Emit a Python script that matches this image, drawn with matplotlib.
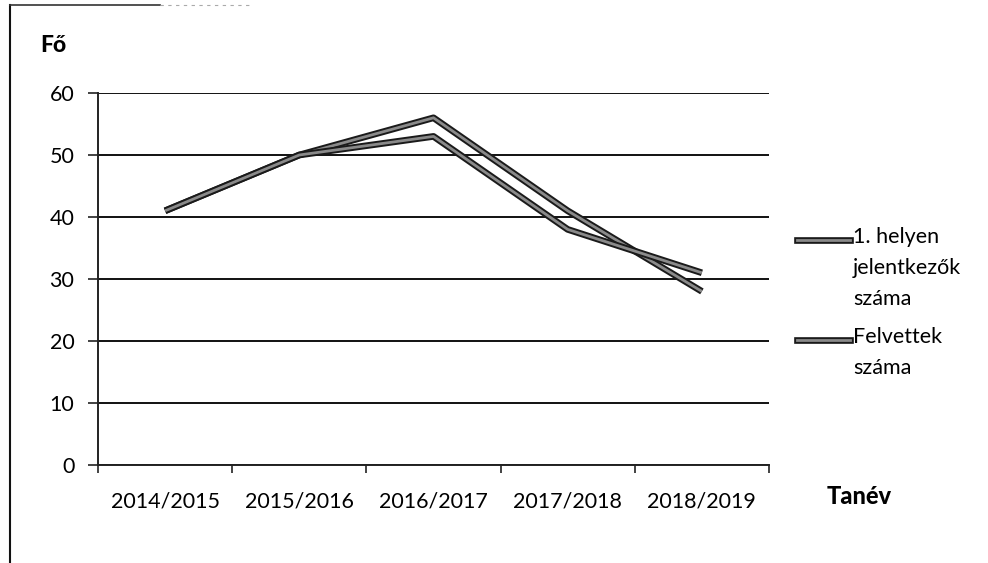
import numpy as np
import matplotlib.pyplot as plt
import matplotlib.patheffects as pe
from matplotlib.lines import Line2D

plt.rcParams['font.family'] = ['Lato', 'DejaVu Sans']

# data
years = ["2014/2015", "2015/2016", "2016/2017", "2017/2018", "2018/2019"]
jelentkezok = [41, 50, 56, 41, 28]
felvettek = [41, 50, 53, 38, 31]
series_names = ["1. helyen\njelentkezők\nszáma", "Felvettek\nszáma"]
yticks = [0, 10, 20, 30, 40, 50, 60]

fig = plt.figure(figsize=(9.88, 5.63), dpi=100)
ax = fig.add_axes([98 / 988, 1 - 465 / 563, (769 - 98) / 988, (465 - 93) / 563])

# scanned look: grey core with dark outline
fx = [pe.Stroke(linewidth=4.8, foreground='#1a1a1a'), pe.Normal()]
x = np.arange(len(years))
ax.plot(x, jelentkezok, color='#8a8a8a', lw=2, path_effects=fx, zorder=3,
        solid_capstyle='butt')
ax.plot(x, felvettek, color='#8a8a8a', lw=2, path_effects=fx, zorder=3,
        solid_capstyle='butt')

ax.set_xlim(-0.5, len(years) - 0.5)
ax.set_ylim(0, 60)
ax.set_yticks(yticks)
ax.yaxis.grid(True, color='#111111', lw=1.4)
ax.set_axisbelow(True)

# category boundaries as ticks, labels in the middle
ax.set_xticks(np.arange(-0.5, len(years)))
ax.set_xticklabels([])
ax.set_xticks(x, minor=True)
ax.set_xticklabels(years, minor=True)
ax.tick_params(axis='x', which='minor', length=0, pad=19, labelsize=15.5)
ax.tick_params(axis='x', which='major', length=6, width=1.2, color='#222222')
ax.tick_params(axis='y', length=7, width=1.2, color='#222222', pad=10,
               labelsize=15.5)

for s in ['top', 'right']:
    ax.spines[s].set_visible(False)
for s in ['left', 'bottom']:
    ax.spines[s].set_color('#222222')
    ax.spines[s].set_linewidth(1.4)

fig.text(40 / 988, 1 - 45 / 563, "Fő", fontsize=16.5, fontweight='black',
         va='center', ha='left')
fig.text(827 / 988, 1 - 497 / 563, "Tanév", fontsize=17, fontweight='black',
         va='center', ha='left')

# legend drawn by hand to match the layout
legend_y = [240, 340]
for name, ly in zip(series_names, legend_y):
    yy = 1 - ly / 563
    fig.add_artist(Line2D([797 / 988, 850 / 988], [yy, yy], color='#8a8a8a',
                          lw=2, path_effects=fx))
    fig.text(853 / 988, yy + 13 / 563, name, fontsize=15.5, va='top',
             ha='left', linespacing=1.68)

# frame of the scanned page
fig.add_artist(Line2D([10 / 988, 10 / 988], [0, 1 - 5 / 563], color='#111111',
                      lw=1.5))
fig.add_artist(Line2D([10 / 988, 160 / 988], [1 - 5 / 563, 1 - 5 / 563],
                      color='#333333', lw=1.2))
fig.add_artist(Line2D([160 / 988, 250 / 988], [1 - 5 / 563, 1 - 5 / 563],
                      color='#aaaaaa', lw=0.8, ls=(0, (3, 4))))

fig.savefig("out.png", dpi=100)
